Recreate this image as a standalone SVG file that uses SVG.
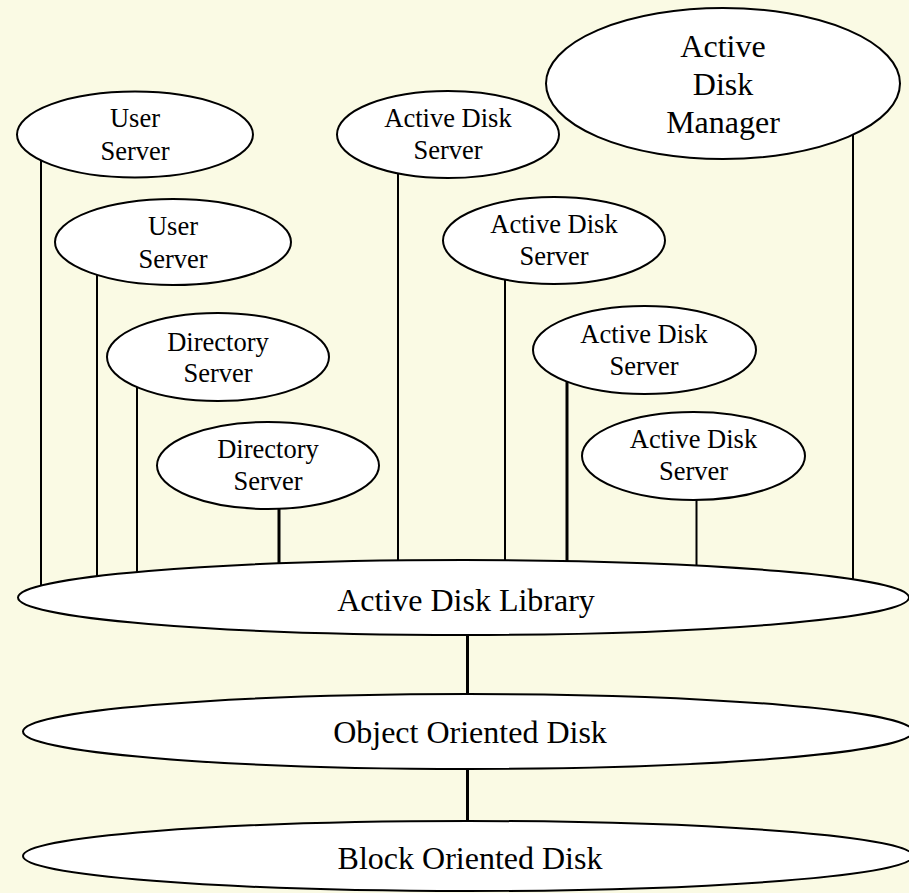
<svg xmlns="http://www.w3.org/2000/svg" width="909" height="893" viewBox="0 0 909 893">
  <style>
    .bg { fill: #FAFAE4; }
    .node ellipse { fill: #FFFFFF; stroke: #000000; stroke-width: 2; }
    .node text { font-family: "Liberation Serif", "Times New Roman", serif; fill: #000000; text-anchor: middle; }
    .small text { font-size: 26.5px; }
    .big text { font-size: 32px; }
    #connectors line { stroke: #000000; stroke-width: 2; }
    #connectors line.thick { stroke-width: 3; }
  </style>

  <rect class="bg" x="0" y="0" width="909" height="893"/>

  <!-- vertical links; ends are hidden under the filled ellipses -->
  <g id="connectors">
    <line x1="41" y1="140" x2="41" y2="600"/>
    <line x1="97" y1="245" x2="97" y2="600"/>
    <line x1="137" y1="360" x2="137" y2="600"/>
    <line class="thick" x1="279" y1="470" x2="279" y2="600"/>
    <line x1="398" y1="140" x2="398" y2="600"/>
    <line x1="505" y1="245" x2="505" y2="600"/>
    <line class="thick" x1="567" y1="355" x2="567" y2="600"/>
    <line x1="696.5" y1="460" x2="696.5" y2="600"/>
    <line x1="853" y1="90" x2="853" y2="600"/>
    <line class="thick" x1="467.5" y1="600" x2="467.5" y2="730"/>
    <line class="thick" x1="467.5" y1="735" x2="467.5" y2="856"/>
  </g>

  <g id="user-server-1" class="node small">
    <ellipse cx="135" cy="134.5" rx="118" ry="43"/>
    <text x="135" y="127">User</text>
    <text x="135" y="160">Server</text>
  </g>

  <g id="user-server-2" class="node small">
    <ellipse cx="173" cy="242" rx="118" ry="43"/>
    <text x="173" y="235">User</text>
    <text x="173" y="268">Server</text>
  </g>

  <g id="directory-server-1" class="node small">
    <ellipse cx="218" cy="357" rx="111" ry="44"/>
    <text x="218" y="351">Directory</text>
    <text x="218" y="382">Server</text>
  </g>

  <g id="directory-server-2" class="node small">
    <ellipse cx="268" cy="465.5" rx="111" ry="43.5"/>
    <text x="268" y="458">Directory</text>
    <text x="268" y="490">Server</text>
  </g>

  <g id="active-disk-server-1" class="node small">
    <ellipse cx="448" cy="134.5" rx="111" ry="43.5"/>
    <text x="448" y="127">Active Disk</text>
    <text x="448" y="159">Server</text>
  </g>

  <g id="active-disk-server-2" class="node small">
    <ellipse cx="554" cy="240.5" rx="111" ry="43.5"/>
    <text x="554" y="233">Active Disk</text>
    <text x="554" y="265">Server</text>
  </g>

  <g id="active-disk-server-3" class="node small">
    <ellipse cx="644.5" cy="350" rx="111.5" ry="44"/>
    <text x="644" y="343">Active Disk</text>
    <text x="644" y="375">Server</text>
  </g>

  <g id="active-disk-server-4" class="node small">
    <ellipse cx="693.5" cy="456" rx="111.5" ry="44"/>
    <text x="693.5" y="448">Active Disk</text>
    <text x="693.5" y="480">Server</text>
  </g>

  <g id="active-disk-manager" class="node big">
    <ellipse cx="723" cy="83.5" rx="177" ry="75.5"/>
    <text x="723" y="57">Active</text>
    <text x="723" y="95">Disk</text>
    <text x="723" y="133">Manager</text>
  </g>

  <g id="active-disk-library" class="node big">
    <ellipse cx="463.5" cy="597.5" rx="445.5" ry="37.5"/>
    <text x="466" y="611">Active Disk Library</text>
  </g>

  <g id="object-oriented-disk" class="node big">
    <ellipse cx="468" cy="731.5" rx="445" ry="37.5"/>
    <text x="470" y="743">Object Oriented Disk</text>
  </g>

  <g id="block-oriented-disk" class="node big">
    <ellipse cx="468" cy="856" rx="445" ry="35"/>
    <text x="470" y="869">Block Oriented Disk</text>
  </g>
</svg>
